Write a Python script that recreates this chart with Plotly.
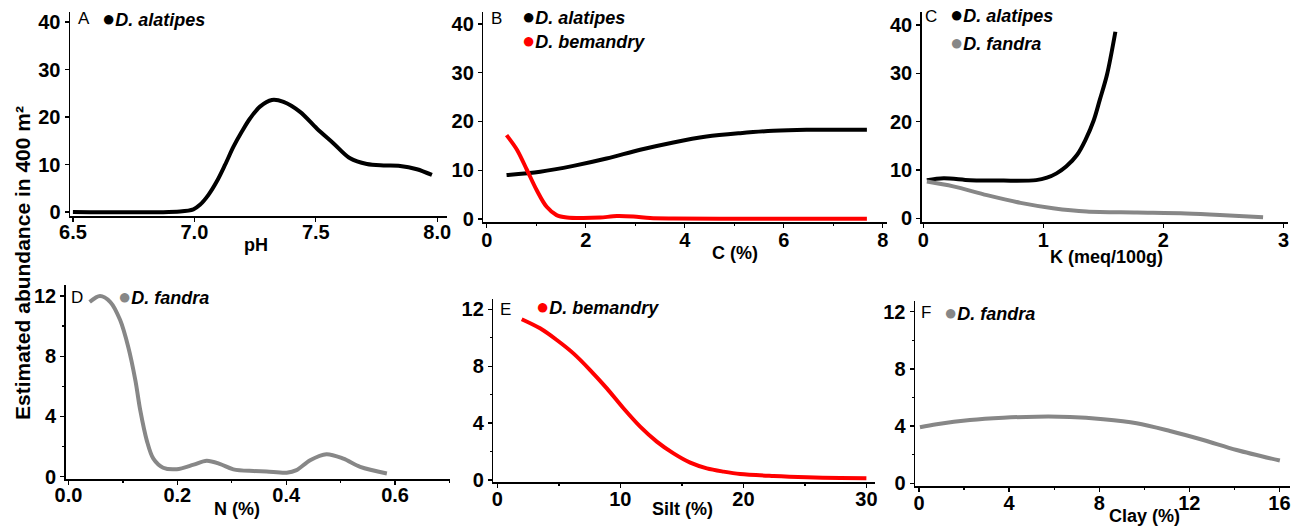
import plotly.graph_objects as go

# ---------------- data ----------------
ph_x = [6.50, 6.941, 6.996, 7.023, 7.058, 7.092, 7.126, 7.161, 7.195, 7.229, 7.270, 7.319, 7.367, 7.435, 7.504, 7.572, 7.641, 7.710, 7.779, 7.847, 7.916, 7.978]
ph_alatipes = [0.0, 0.1, 0.56, 1.5, 3.6, 6.4, 9.9, 13.75, 16.9, 19.7, 22.2, 23.6, 23.2, 21.1, 17.6, 14.5, 11.3, 10.1, 9.8, 9.7, 9.0, 7.8]

c_x_alat = [0.40, 1.08, 1.75, 2.42, 3.10, 3.77, 4.44, 5.12, 5.79, 6.46, 7.14, 7.68]
c_alatipes = [9.0, 9.7, 10.9, 12.4, 14.2, 15.7, 16.9, 17.6, 18.1, 18.3, 18.3, 18.3]
c_x_bem = [0.40, 0.61, 0.81, 1.01, 1.21, 1.41, 1.62, 1.95, 2.29, 2.63, 2.96, 3.30, 3.77, 5.12, 7.68]
c_bemandry = [17.2, 14.2, 10.1, 5.9, 2.5, 0.8, 0.3, 0.2, 0.3, 0.6, 0.5, 0.2, 0.1, 0.05, 0.05]

k_x_alat = [0.03, 0.17, 0.39, 0.67, 0.94, 1.03, 1.11, 1.19, 1.28, 1.35, 1.42, 1.47, 1.53, 1.60]
k_alatipes = [7.9, 8.3, 7.9, 7.8, 7.9, 8.4, 9.3, 10.7, 13.1, 16.2, 20.3, 24.5, 29.7, 38.6]
k_x_fan = [0.03, 0.25, 0.53, 0.81, 1.08, 1.36, 1.78, 2.19, 2.47, 2.83]
k_fandra = [7.6, 6.6, 4.8, 3.2, 2.1, 1.4, 1.2, 1.0, 0.7, 0.2]

n_x = [0.039, 0.058, 0.077, 0.095, 0.110, 0.123, 0.132, 0.144, 0.156, 0.174, 0.199, 0.230, 0.254, 0.279, 0.303, 0.340, 0.364, 0.401, 0.419, 0.444, 0.474, 0.505, 0.536, 0.585]
n_fandra = [11.6, 12.0, 11.6, 10.4, 8.6, 6.4, 4.4, 2.4, 1.2, 0.6, 0.5, 0.8, 1.06, 0.84, 0.49, 0.38, 0.35, 0.27, 0.44, 1.1, 1.5, 1.2, 0.66, 0.22]

silt_x = [1.98, 3.47, 4.83, 6.18, 7.54, 8.90, 10.25, 11.61, 12.96, 14.32, 15.68, 17.03, 18.39, 19.74, 22.46, 25.17, 27.88, 30.0]
silt_bemandry = [11.3, 10.66, 9.84, 8.9, 7.73, 6.44, 5.04, 3.75, 2.70, 1.87, 1.22, 0.82, 0.59, 0.42, 0.28, 0.19, 0.14, 0.12]

clay_x = [0.04, 0.78, 2.26, 3.74, 5.22, 6.70, 8.18, 9.66, 11.14, 12.62, 14.10, 16.02]
clay_fandra = [3.92, 4.13, 4.43, 4.59, 4.66, 4.64, 4.48, 4.20, 3.66, 3.03, 2.33, 1.59]

# ---------------- style ----------------
W, H = 1300, 527
BLACK = "#000000"
RED = "#ff0000"
GRAY = "#878787"
FONT = "Liberation Sans"
LW = 4


def px_x(p):
    return p / W


def px_y(p):
    return 1 - p / H


fig = go.Figure()

series = [
    (ph_x, ph_alatipes, BLACK, ""),
    (c_x_alat, c_alatipes, BLACK, "2"),
    (c_x_bem, c_bemandry, RED, "2"),
    (k_x_alat, k_alatipes, BLACK, "3"),
    (k_x_fan, k_fandra, GRAY, "3"),
    (n_x, n_fandra, GRAY, "4"),
    (silt_x, silt_bemandry, RED, "5"),
    (clay_x, clay_fandra, GRAY, "6"),
]
for xs, ys, col, ax in series:
    fig.add_trace(go.Scatter(
        x=xs, y=ys, mode="lines",
        line=dict(color=col, width=LW, shape="spline", smoothing=0.9),
        xaxis="x" + ax, yaxis="y" + ax, showlegend=False, hoverinfo="skip",
    ))

# panel pixel boxes: (left, right, top, bottom)
boxes = {
    "": (70, 447, 11.7, 216),
    "2": (483.3, 886.7, 11.7, 221.7),
    "3": (921.7, 1288.3, 11.7, 221.7),
    "4": (65.7, 449.5, 285, 479.3),
    "5": (493.3, 875, 299.3, 482.3),
    "6": (915, 1290, 300.7, 486),
}
xcfg = {
    "": dict(range=[6.488, 8.04], dtick=0.5, tick0=6.5, tickformat=".1f", minor=None, so=-7),
    "2": dict(range=[-0.07, 8.08], dtick=2, tick0=0, tickformat=None, minor=1, so=-5),
    "3": dict(range=[-0.013, 3.04], dtick=1, tick0=0, tickformat=None, minor=None, so=-5),
    "4": dict(range=[-0.005, 0.70], dtick=0.2, tick0=0, tickformat=".1f", minor=0.1, so=-7),
    "5": dict(range=[-0.33, 30.7], dtick=10, tick0=0, tickformat=None, minor=5, so=-6),
    "6": dict(range=[-0.18, 16.47], dtick=4, tick0=0, tickformat=None, minor=2, so=-6),
}
ycfg = {
    "": dict(range=[-0.85, 42.2], dtick=10, minor=None),
    "2": dict(range=[-0.55, 42.5], dtick=10, minor=None),
    "3": dict(range=[-0.7, 42.75], dtick=10, minor=None),
    "4": dict(range=[-0.17, 12.73], dtick=4, minor=2),
    "5": dict(range=[-0.16, 12.7], dtick=4, minor=2),
    "6": dict(range=[-0.19, 12.77], dtick=4, minor=2),
}

tickfont = dict(family=FONT, size=20, color="#000", weight="bold")
layout = dict(
    width=W, height=H,
    margin=dict(l=0, r=0, t=0, b=0, pad=0, autoexpand=False),
    paper_bgcolor="white", plot_bgcolor="white",
    showlegend=False, hovermode=False,
)
for ax, (l, r, t, b) in boxes.items():
    xc = xcfg[ax]
    yc = ycfg[ax]
    xa = dict(
        domain=[px_x(l), px_x(r)], range=xc["range"], anchor="y" + ax,
        automargin=False, ticklabelstandoff=xc["so"],
        showline=True, linecolor="#000", linewidth=1.8, showgrid=False, zeroline=False,
        ticks="outside", ticklen=4, tickwidth=1.3, tickcolor="#000",
        dtick=xc["dtick"], tick0=xc["tick0"], tickfont=tickfont,
    )
    if xc["tickformat"]:
        xa["tickformat"] = xc["tickformat"]
    if xc["minor"]:
        xa["minor"] = dict(dtick=xc["minor"], ticks="outside", ticklen=2, tickcolor="#000", showgrid=False)
    ya = dict(
        domain=[px_y(b), px_y(t)], range=yc["range"], anchor="x" + ax,
        automargin=False,
        showline=True, linecolor="#000", linewidth=1.5, showgrid=False, zeroline=False,
        ticks="outside", ticklen=4, tickwidth=1.3, tickcolor="#000",
        dtick=yc["dtick"], tick0=0, tickfont=tickfont,
    )
    if yc["minor"]:
        ya["minor"] = dict(dtick=yc["minor"], ticks="outside", ticklen=2, tickcolor="#000", showgrid=False)
    layout["xaxis" + ax] = xa
    layout["yaxis" + ax] = ya

fig.update_layout(**layout)

annotations = []


def ann(text, x, y, size, xanchor="center", angle=0, bold=False, italic=False):
    annotations.append(dict(
        text=text, x=px_x(x), y=px_y(y), xref="paper", yref="paper",
        xanchor=xanchor, yanchor="middle", showarrow=False, textangle=angle,
        font=dict(family=FONT, size=size, color="#000",
                  weight="bold" if bold else "normal",
                  style="italic" if italic else "normal"),
    ))


def species(name, color, x, y):
    text = ("<span style='color:%s;font-size:22px'>●</span>"
            "<b><i>%s</i></b>" % (color, name))
    ann(text, x, y, 18, xanchor="left")


# axis titles
ann("pH", 256, 245, 18, bold=True)
ann("C (%)", 735, 253, 18, bold=True)
ann("K (meq/100g)", 1106, 257, 18, bold=True)
ann("N (%)", 237, 509, 18, bold=True)
ann("Silt (%)", 683, 509, 18, bold=True)
ann("Clay (%)", 1144, 516, 18, bold=True)
ann("Estimated abundance in 400 m²", 22, 263, 21, angle=-90, bold=True)

# panel letters
ann("A", 84, 18, 17)
ann("B", 496, 18, 17)
ann("C", 931, 17, 17)
ann("D", 77, 297, 17)
ann("E", 505, 309, 17)
ann("F", 926, 312, 17)

# species keys
species("D. alatipes", BLACK, 100, 18)
species("D. alatipes", BLACK, 520, 17)
species("D. bemandry", RED, 520, 41)
species("D. alatipes", BLACK, 948, 15)
species("D. fandra", GRAY, 948, 42)
species("D. fandra", GRAY, 116, 296)
species("D. bemandry", RED, 534, 306)
species("D. fandra", GRAY, 942, 312)

fig.update_layout(annotations=annotations)
fig.write_html(
    "out.html",
    config={"displayModeBar": False, "staticPlot": True},
    post_script="document.body.style.margin='0';",
)
